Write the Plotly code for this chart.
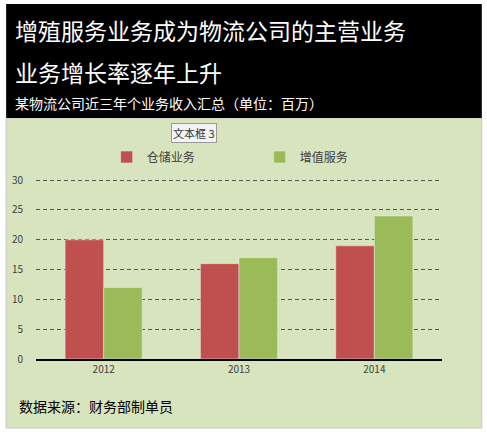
import plotly.graph_objects as go

W, H = 487, 432
L, R, T, B = 34, 442, 179, 359  # plot area in pixels

years = ["2012", "2013", "2014"]
storage = [20, 16, 19]
value_added = [12, 17, 24]
tick_vals = [0, 5, 10, 15, 20, 25, 30]

font = "Noto Sans CJK SC"

def px(x):
    return (x - L) / (R - L)

def py(y):
    return (B - y) / (B - T)

fig = go.Figure()
fig.add_trace(go.Bar(x=years, y=storage, name="仓储业务", marker_color="#c0504d"))
fig.add_trace(go.Bar(x=years, y=value_added, name="增值服务", marker_color="#9bbb59"))

shapes = [
    dict(type="rect", xref="paper", yref="paper", x0=px(4), x1=px(482), y0=py(428), y1=py(118),
         fillcolor="#d7e4bd", line=dict(color="#c8c8c8", width=1), layer="below"),
    dict(type="rect", xref="paper", yref="paper", x0=px(4), x1=px(482), y0=py(118), y1=py(4),
         fillcolor="black", line=dict(width=0), layer="below"),
]

annotations = [
    dict(text="增殖服务业务成为物流公司的主营业务", x=px(11), y=py(30), showarrow=False,
         xanchor="left", yanchor="middle", font=dict(size=23, color="white", family=font)),
    dict(text="业务增长率逐年上升", x=px(11), y=py(72), showarrow=False,
         xanchor="left", yanchor="middle", font=dict(size=23, color="white", family=font)),
    dict(text="某物流公司近三年个业务收入汇总（单位：百万）", x=px(11), y=py(103), showarrow=False,
         xanchor="left", yanchor="middle", font=dict(size=14, color="white", family=font)),
    dict(text="文本框 3", x=px(193), y=py(123), showarrow=False, bgcolor="#f4f4f4",
         bordercolor="#999999", borderwidth=1, borderpad=1,
         font=dict(size=11, color="#333333", family=font)),
    dict(text="数据来源：财务部制单员", x=px(15), y=py(406), showarrow=False,
         xanchor="left", yanchor="middle", font=dict(size=14, color="black", family=font)),
]
for a in annotations:
    a.update(xref="paper", yref="paper")

fig.update_layout(
    width=W, height=H,
    margin=dict(l=L, r=W - R, t=T, b=H - B, pad=0),
    paper_bgcolor="white",
    plot_bgcolor="rgba(0,0,0,0)",
    barmode="group", bargap=0.43, bargroupgap=0,
    shapes=shapes, annotations=annotations,
    font=dict(family=font, size=10, color="#404040"),
    legend=dict(orientation="h", x=px(105), xanchor="left", y=py(157), yanchor="middle",
                bgcolor="rgba(0,0,0,0)", font=dict(size=12, color="#404040"),
                itemwidth=30, entrywidth=108, tracegroupgap=0),
    xaxis=dict(showline=True, linecolor="black", linewidth=1.5, ticks="", tickfont=dict(size=10)),
    yaxis=dict(range=[0, 30.2], tickvals=tick_vals, showgrid=True, gridcolor="#555555",
               griddash="4px,3px", gridwidth=1, zeroline=False, ticks="", ticklabelstandoff=12,
               tickfont=dict(size=10)),
)

# drop the default page margin so the figure sits at the window corner
fig.write_html("out.html", config={"displayModeBar": False},
               post_script="document.body.style.margin='0';")
